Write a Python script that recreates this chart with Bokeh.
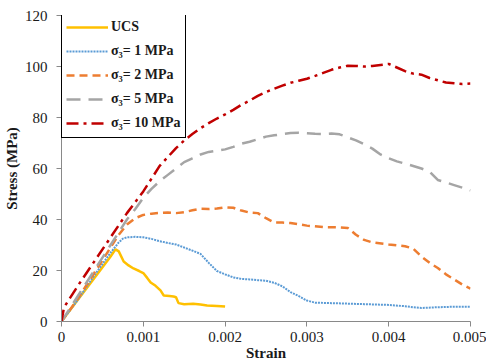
from bokeh.plotting import figure
from bokeh.models import FixedTicker, CustomJSTickFormatter, Legend, LegendItem
from bokeh.embed import file_html
from bokeh.resources import INLINE

# Stress-strain curves (strain, stress in MPa)
ucs_strain = [0, 0.0002, 0.0004, 0.0006, 0.00066, 0.0007, 0.00076, 0.00082, 0.00088,
              0.00095, 0.001, 0.00105, 0.00109, 0.00115, 0.00121, 0.00125, 0.00132,
              0.00137, 0.0014, 0.00143, 0.0015, 0.00161, 0.0017, 0.00178, 0.0019, 0.002]
ucs_stress = [0, 8.5, 17, 25.5, 28.3, 27.5, 23.5, 22, 20.8, 19.8, 19, 17, 15.3, 14, 12.2,
              10.2, 10, 9.8, 9.5, 7.2, 6.8, 7, 6.7, 6.3, 6.1, 5.9]

s1_strain = [0, 0.0002, 0.0004, 0.0006, 0.0007, 0.00075, 0.0008, 0.0009, 0.001, 0.0011,
             0.0012, 0.0013, 0.0014, 0.0015, 0.0016, 0.0017, 0.0018, 0.0019, 0.002, 0.0021,
             0.0022, 0.0023, 0.0024, 0.0025, 0.0026, 0.0027, 0.0028, 0.0029, 0.003, 0.0031,
             0.0033, 0.0035, 0.0037, 0.0039, 0.004, 0.0042, 0.0043, 0.0044, 0.0046, 0.0048,
             0.005]
s1_stress = [0, 8.5, 18, 27, 31, 32.5, 33, 33.2, 33, 32.4, 31.5, 30.8, 30.2, 29, 27.8, 26.5,
             23, 19.8, 18.5, 17.3, 16.7, 16.5, 16.2, 16, 15.2, 13.8, 11.5, 10, 8.2, 7.4,
             7.2, 7, 6.8, 6.6, 6.5, 6.0, 5.6, 5.3, 5.6, 5.8, 5.8]

s2_strain = [0, 0.0002, 0.0004, 0.0006, 0.0007, 0.0008, 0.0009, 0.001, 0.0011, 0.0012,
             0.0013, 0.0014, 0.0015, 0.0016, 0.0017, 0.0018, 0.0019, 0.002, 0.0021, 0.0022,
             0.0023, 0.0024, 0.0025, 0.0026, 0.0027, 0.0028, 0.003, 0.0032, 0.0034, 0.0035,
             0.0036, 0.0037, 0.0038, 0.004, 0.0042, 0.0043, 0.0044, 0.0045, 0.0046, 0.0047,
             0.0048, 0.0049, 0.005]
s2_stress = [0, 9, 19, 29, 34, 38, 40.5, 41.8, 42.3, 42.6, 42.7, 42.5, 42.9, 43.6, 44.2,
             44.1, 44.3, 44.8, 44.6, 43.5, 42.7, 42.5, 40.5, 38.8, 38.8, 38.6, 37.6, 37,
             36.9, 36.7, 34, 32, 31, 30.2, 29.5, 28.6, 25.5, 23, 21, 18.5, 16.5, 14.5, 12.9]

s5_strain = [0, 0.0002, 0.0004, 0.0006, 0.0008, 0.0009, 0.001, 0.0011, 0.0012, 0.0013,
             0.0014, 0.0015, 0.0016, 0.0017, 0.0018, 0.0019, 0.002, 0.0021, 0.0022, 0.0023,
             0.0024, 0.0025, 0.0026, 0.0027, 0.0028, 0.0029, 0.003, 0.0031, 0.0032, 0.0033,
             0.0034, 0.0035, 0.0036, 0.0037, 0.0038, 0.0039, 0.004, 0.0041, 0.0042, 0.0043,
             0.0044, 0.0045, 0.0046, 0.0047, 0.0048, 0.0049, 0.005]
s5_stress = [0, 10, 20, 30, 40, 44, 48.5, 52, 55, 57.5, 60, 62.5, 64, 65.5, 66.5, 67, 67.5,
             68.5, 69.7, 70.5, 71.5, 72.5, 73, 73.5, 73.9, 74, 73.8, 73.6, 73.5, 73.7, 73.4,
             72.2, 71, 69.5, 67.8, 65.5, 64, 62.8, 61.9, 61, 60, 58.8, 55.5, 54.5, 53.5,
             52.5, 51.4]

s10_strain = [0, 0.00003, 0.0002, 0.0004, 0.0006, 0.0008, 0.001, 0.0011, 0.0012, 0.0013,
              0.0014, 0.0015, 0.0016, 0.0017, 0.0018, 0.0019, 0.002, 0.0021, 0.0022, 0.0023,
              0.0024, 0.0025, 0.0026, 0.0027, 0.0028, 0.0029, 0.003, 0.0031, 0.0032, 0.0033,
              0.0034, 0.0035, 0.0036, 0.0037, 0.0038, 0.0039, 0.004, 0.0041, 0.0042, 0.0043,
              0.0044, 0.0045, 0.0046, 0.0047, 0.0048, 0.0049, 0.005]
s10_stress = [0, 5.5, 14, 23.5, 33, 42.5, 51, 56, 61, 64.5, 68, 71, 73.5, 75.8, 77.8, 79.6,
              81.2, 83, 85, 86.6, 88.5, 90, 91.3, 92.5, 93.6, 94.4, 95.2, 96.3, 97.5, 98.7,
              99.6, 100.3, 100.2, 100, 100.2, 100.6, 101, 99.6, 98.2, 97.2, 96.8, 95.5, 94.6,
              93.7, 93.4, 93.1, 93.3]

x_ticks = [0, 0.001, 0.002, 0.003, 0.004, 0.005]
y_ticks = [0, 20, 40, 60, 80, 100, 120]

series = [
    ("UCS", ucs_strain, ucs_stress, "#FFC000", "solid", 2.5),
    ("σ₃= 1 MPa", s1_strain, s1_stress, "#5B9BD5", "2 1", 2),
    ("σ₃= 2 MPa", s2_strain, s2_stress, "#ED7D31", "8 5", 2.5),
    ("σ₃= 5 MPa", s5_strain, s5_stress, "#A5A5A5", "14 8", 2.5),
    ("σ₃= 10 MPa", s10_strain, s10_stress, "#C00000", "12 5 3 5", 2.5),
]

FONT = "'Liberation Serif', 'Times New Roman', serif"
TEXT = "#1a1a1a"

p = figure(width=486, height=363, output_backend="svg", toolbar_location=None,
           x_range=(0, 0.005), y_range=(0, 120),
           min_border_left=61, min_border_right=16, min_border_top=15,
           min_border_bottom=42)
p.outline_line_color = None
p.xgrid.visible = False
p.ygrid.visible = False
p.background_fill_color = "white"
p.border_fill_color = "white"

items = []
for name, xs, ys, color, dash, lw in series:
    r = p.line(xs, ys, line_color=color, line_dash=dash, line_width=lw)
    items.append(LegendItem(label=name, renderers=[r]))

# Axes
for ax in (p.xaxis[0], p.yaxis[0]):
    ax.axis_line_color = "#898989"
    ax.major_tick_line_color = "#898989"
    ax.minor_tick_line_color = None
    ax.major_tick_in = 0
    ax.major_tick_out = 5
    ax.major_label_text_font = FONT
    ax.major_label_text_font_size = "15px"
    ax.major_label_text_color = TEXT
    ax.axis_label_text_font = FONT
    ax.axis_label_text_font_size = "15px"
    ax.axis_label_text_font_style = "bold"
    ax.axis_label_text_color = TEXT

p.xaxis.ticker = FixedTicker(ticks=x_ticks)
p.xaxis.formatter = CustomJSTickFormatter(
    code="return tick == 0 ? '0' : tick.toFixed(3);")
p.xaxis.axis_label = "Strain"
p.xaxis.major_label_standoff = 5
p.xaxis.axis_label_standoff = 0

p.yaxis.ticker = FixedTicker(ticks=y_ticks)
p.yaxis.axis_label = "Stress (MPa)"
p.yaxis.major_label_standoff = 9
p.yaxis.axis_label_standoff = 2

legend = Legend(items=items, location=(0, 183), margin=0,
                border_line_color="#000000", border_line_width=1.5,
                border_line_alpha=1.0,
                background_fill_color="white", background_fill_alpha=1,
                padding=4, spacing=4, glyph_width=42, glyph_height=20,
                label_height=20, label_standoff=3,
                label_text_font=FONT, label_text_font_size="14px",
                label_text_font_style="bold", label_text_color=TEXT)
p.add_layout(legend)

open("out.html", "w").write(file_html(p, INLINE))
